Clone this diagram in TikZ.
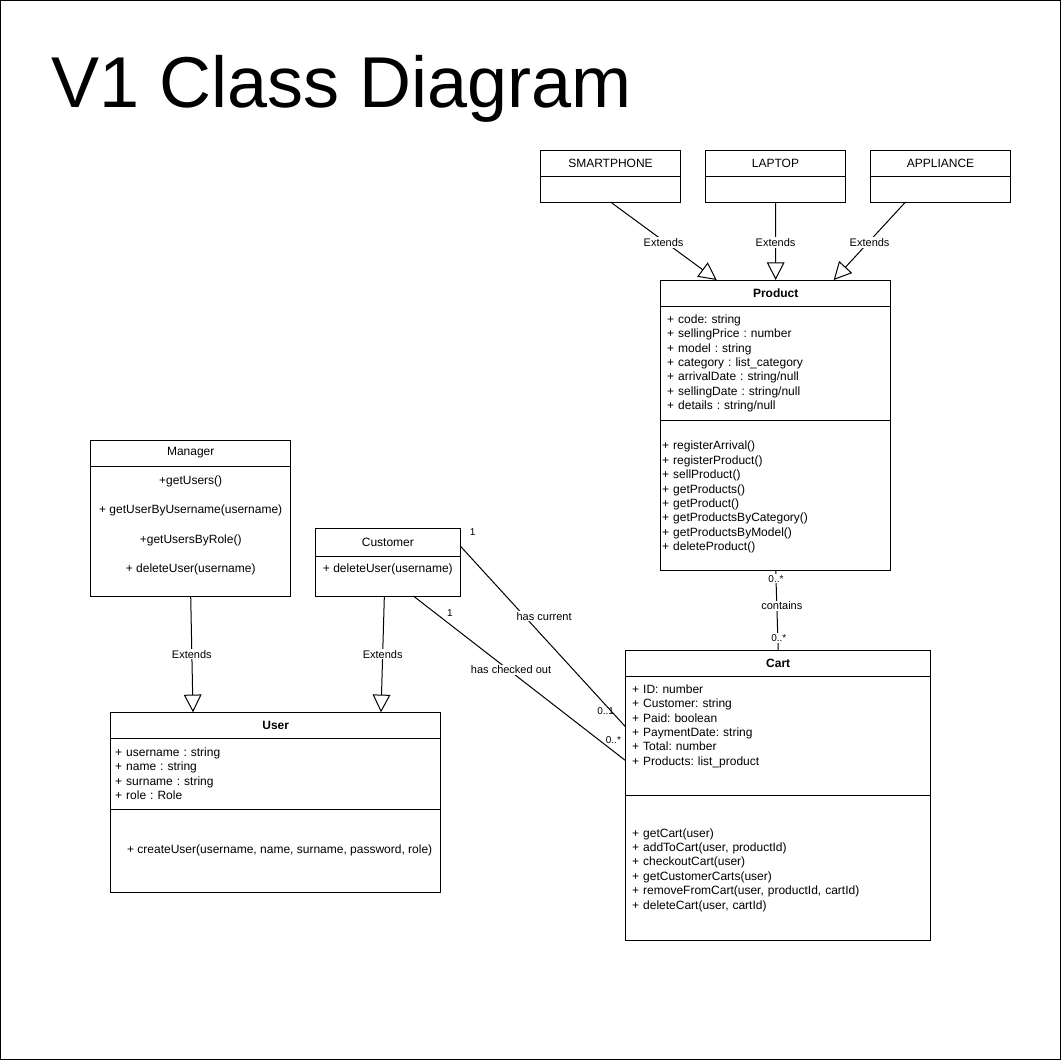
\documentclass[tikz,border=0pt]{standalone}
\usepackage{fontspec}
\setmainfont{Liberation Sans}
\usetikzlibrary{arrows.meta,positioning,calc}
\tikzset{
  cls/.style={draw, line width=1pt, outer sep=0pt, inner sep=0pt,
              anchor=north west},
  comp/.style={draw, line width=1pt, outer sep=0pt, inner ysep=0pt,
               align=left},
  ext/.style={-{Triangle[open,length=17.7pt,width=17.7pt]}, line width=1pt},
  assoc/.style={line width=1pt},
  elab/.style={midway, fill=white, inner sep=1pt,
               font=\fontsize{11}{13}\selectfont},
  mult/.style={inner sep=1pt, font=\fontsize{10}{12}\selectfont},
}
\frenchspacing

\begin{document}
\begin{tikzpicture}[x=1pt, y=-1pt, font=\fontsize{12}{14.4}\selectfont]
\useasboundingbox (0,0) rectangle (1062,1061);
\draw[line width=1pt] (0.5,0.5) rectangle (1060.5,1059.5);
\node[anchor=base west, inner sep=0pt, font=\fontsize{72}{86}\selectfont]
  (title) at (51,107) {V1 Class Diagram};

% product kinds
\foreach \n/\t/\x in {smartphone/SMARTPHONE/540.5, laptop/LAPTOP/705.5,
                      appliance/APPLIANCE/870.5} {
  \node[cls, minimum width=140pt, minimum height=26.7pt] (\n) at (\x,150) {\t};
  \node[comp, below=0pt of \n, minimum width=140pt, minimum height=25.3pt]
    (\n-body) {};
}

% product
\node[cls, minimum width=230pt, minimum height=26.7pt] (product)
  at (660.7,280) {\textbf{Product}};
\node[comp, below=0pt of product, inner xsep=6.5pt, text width=217pt,
      minimum height=113.3pt] (product-attr)
  {+ code: string\\+ sellingPrice : number\\+ model : string\\
   + category : list\_category\\+ arrivalDate : string/null\\
   + sellingDate : string/null\\+ details : string/null};
\node[comp, below=0pt of product-attr, inner xsep=1.5pt, text width=227pt,
      minimum height=150pt] (product-ops)
  {+ registerArrival()\\+ registerProduct()\\+ sellProduct()\\
   + getProducts()\\+ getProduct()\\+ getProductsByCategory()\\
   + getProductsByModel()\\+ deleteProduct()\\[-16.4pt]~};

% manager
\node[cls, minimum width=200pt, minimum height=26pt] (manager)
  at (90.7,440) {Manager};
\node[comp, below=0pt of manager, minimum width=200pt, minimum height=130pt,
      align=center, font=\fontsize{12}{29.3}\selectfont] (manager-ops)
  {+getUsers()\\+ getUserByUsername(username)\\+getUsersByRole()\\
   + deleteUser(username)\\[-15.3pt]~};

% customer
\node[cls, minimum width=144.3pt, minimum height=28pt] (customer)
  at (315.7,528.7) {Customer};
\node[comp, below=0pt of customer, minimum width=144.3pt,
      minimum height=39.3pt, align=center] (customer-ops)
  {+ deleteUser(username)\\[2.2pt]~};

% user
\node[cls, minimum width=330pt, minimum height=26pt] (user)
  at (110.7,712.3) {\textbf{User}};
\node[comp, below=0pt of user, inner xsep=4.5pt, text width=321pt,
      minimum height=71pt] (user-attr)
  {+ username : string\\+ name : string\\+ surname : string\\+ role : Role};
\node[comp, below=0pt of user-attr, minimum width=330pt, minimum height=83pt,
      align=center] (user-ops)
  {\hspace*{8pt}+ createUser(username, name, surname, password, role)};

% cart
\node[cls, minimum width=305pt, minimum height=26.7pt] (cart)
  at (625.7,650) {\textbf{Cart}};
\node[comp, below=0pt of cart, inner xsep=6.5pt, text width=292pt,
      minimum height=118.6pt] (cart-attr)
  {+ ID: number\\+ Customer: string\\+ Paid: boolean\\+ PaymentDate: string\\
   + Total: number\\+ Products: list\_product\\[7.6pt]~};
\node[comp, below=0pt of cart-attr, inner xsep=6.5pt, text width=292pt,
      minimum height=144.7pt] (cart-ops)
  {+ getCart(user)\\+ addToCart(user, productId)\\+ checkoutCart(user)\\
   + getCustomerCarts(user)\\+ removeFromCart(user, productId, cartId)\\
   + deleteCart(user, cartId)\\[-16.4pt]~};

% generalisations
\foreach \n/\s/\e in {smartphone/0/-59, laptop/0/0, appliance/-35/58}
  \draw[ext] ($(\n-body.south)+(\s,0)$) -- ($(product.north)+(\e,0)$)
    node[elab, yshift=-1.5pt] {Extends};
\draw[ext] (manager-ops.south) -- ($(user.north)+(-82.7,0)$)
  node[elab] {Extends};
\draw[ext] ($(customer-ops.south)+(-3.5,0)$) -- ($(user.north)+(105.3,0)$)
  node[elab] {Extends};

% associations
\draw[assoc] ($(customer.east)+(0,3)$) -- ($(cart-attr.west)+(0,-9)$)
  node[mult, pos=0, xshift=12.6pt, yshift=13.3pt] {1}
  node[elab, pos=0.39, xshift=19.5pt] {has current}
  node[mult, pos=1, xshift=-20pt, yshift=16.3pt] {0..1};
\draw[assoc] ($(customer-ops.south)+(25.5,0)$) -- ($(cart-attr.west)+(0,24.7)$)
  node[mult, pos=0, xshift=36.6pt, yshift=-16.7pt] {1}
  node[elab, pos=0.46, yshift=2pt] {has checked out}
  node[mult, pos=1, xshift=-12.3pt, yshift=20.7pt] {0..*};
\draw[assoc] (product-ops.south) -- (cart.north)
  node[mult, fill=white, pos=0.11] {0..*}
  node[elab, pos=0.45, xshift=5pt] {contains}
  node[mult, fill=white, pos=0.85, xshift=1pt] {0..*};
\end{tikzpicture}
\end{document}
